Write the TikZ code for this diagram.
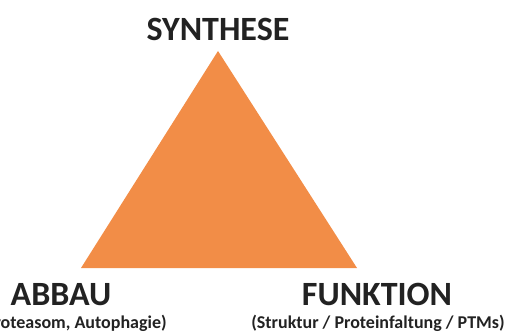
\documentclass[tikz,border=0pt]{standalone}
\usepackage{fontspec}
\setmainfont{Carlito}
\definecolor{dreieck}{HTML}{F28D47}
\definecolor{schrift}{HTML}{222222}
\begin{document}
\begin{tikzpicture}[x=1pt, y=-1pt, line join=round,
		titel/.style={font=\fontsize{34}{36}\selectfont\bfseries, text=schrift, inner sep=0pt, anchor=base},
		unter/.style={font=\fontsize{18}{20}\selectfont\bfseries, text=schrift, inner sep=0pt, anchor=base}]
			\useasboundingbox (0,0) rectangle (509,334);
			\coordinate (spitze) at (218,51);
			\coordinate (links) at (81,268);
			\coordinate (rechts) at (357,268);
			\fill[dreieck] (spitze) -- (rechts) -- (links) -- cycle;
			\node[titel] (synthese) at (218,41) {SYNTHESE};
			\node[titel] (abbau) at (61,305) {ABBAU};
			\node[titel] (funktion) at (377,305) {FUNKTION};
			\node[unter] (abbauU) at (73,328) {(Proteasom, Autophagie)};
			\node[unter] (funktionU) at (378,328) {(Struktur / Proteinfaltung / PTMs)};
		\end{tikzpicture}
\end{document}
